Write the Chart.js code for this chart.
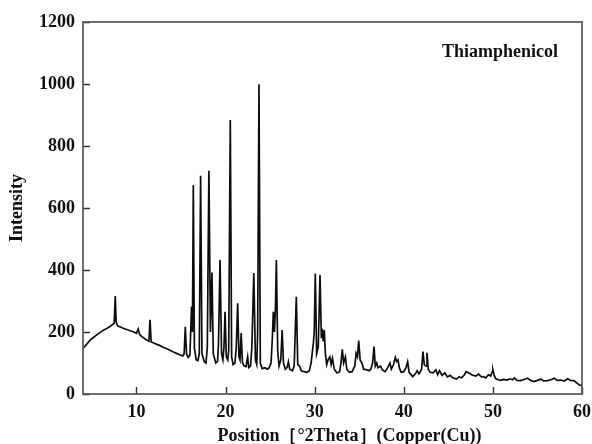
<!DOCTYPE html>
<html>
<head>
<meta charset="utf-8">
<script src="https://cdn.jsdelivr.net/npm/chart.js@4"></script>
<style>
html,body{margin:0;padding:0;background:#fff;}
#wrap{width:592px;height:444px;}
</style>
</head>
<body>
<div id="wrap"><canvas id="c" width="592" height="444"></canvas></div>
<script>
const twoTheta = [
4.0,4.4,4.8,5.2,5.5,5.9,6.3,6.7,7.0,7.3,7.5,7.62,7.72,7.9,8.2,8.5,8.9,9.3,9.7,10.0,
10.2,10.35,10.6,10.9,11.2,11.4,11.52,11.65,12.0,12.3,12.64,13.0,13.4,13.76,14.1,14.5,14.9,15.2,15.35,15.48,
15.62,15.8,16.0,16.18,16.28,16.38,16.5,16.7,16.9,17.05,17.2,17.35,17.6,17.8,17.95,18.13,18.3,18.47,18.62,18.9,
19.1,19.2,19.38,19.55,19.7,19.82,19.94,20.08,20.25,20.35,20.53,20.68,20.85,21.05,21.2,21.36,21.5,21.62,21.75,21.9,
22.1,22.3,22.48,22.6,22.8,22.95,23.17,23.35,23.5,23.6,23.75,23.9,24.1,24.4,24.7,24.9,25.1,25.25,25.36,25.48,
25.6,25.7,25.85,26.0,26.2,26.35,26.5,26.7,26.9,27.05,27.2,27.5,27.7,27.94,28.1,28.3,28.5,28.8,29.1,29.4,
29.6,29.85,29.95,30.07,30.22,30.4,30.6,30.75,30.85,30.95,31.08,31.2,31.35,31.5,31.7,31.85,32.0,32.2,32.5,32.8,
32.95,33.1,33.25,33.45,33.6,33.9,34.2,34.5,34.65,34.8,34.94,35.1,35.3,35.5,35.84,36.1,36.3,36.5,36.66,36.8,
36.96,37.1,37.4,37.6,37.9,38.2,38.45,38.6,38.85,39.05,39.2,39.35,39.5,39.7,40.0,40.25,40.43,40.6,41.0,41.3,
41.5,41.7,42.0,42.15,42.3,42.5,42.6,42.75,42.95,43.3,43.6,43.8,44.0,44.3,44.6,44.9,45.2,45.5,45.9,46.2,
46.5,46.8,47.0,47.3,47.6,47.8,48.1,48.4,48.7,48.95,49.2,49.5,49.75,49.9,50.0,50.15,50.3,50.6,50.9,51.2,
51.6,51.9,52.2,52.4,52.7,53.1,53.5,53.9,54.2,54.6,55.0,55.4,55.7,56.1,56.5,56.9,57.2,57.6,58.0,58.4,
58.7,59.1,59.4,59.7,60.0
];
const intensity = [
147,160,174,183,190,198,206,212,217,224,228,316,232,219,216,212,208,204,200,196,
210,192,185,179,173,170,239,168,164,160,156,151,146,141,136,131,126,123,130,217,
130,118,125,282,200,674,150,110,108,130,704,130,105,100,150,720,200,392,130,100,
105,160,432,130,110,150,265,120,110,140,884,120,95,100,150,293,120,110,197,100,
90,88,120,85,90,150,390,110,95,200,999,100,82,85,80,85,100,180,265,200,
280,432,140,90,110,206,100,80,85,104,80,75,90,314,95,90,75,72,70,75,
100,164,200,389,130,150,384,180,210,170,206,130,95,110,120,95,115,80,68,72,
100,144,100,120,80,70,72,90,131,120,172,110,100,80,78,75,80,100,153,90,
100,85,90,78,72,85,100,80,95,118,105,110,85,70,72,85,104,70,56,65,
75,65,80,137,95,90,133,80,70,68,78,62,75,60,68,55,60,52,48,55,
52,62,72,68,62,60,58,64,55,56,52,62,58,70,78,60,50,46,44,47,
45,49,46,52,44,43,47,51,44,40,44,48,42,43,46,51,44,45,42,49,
44,43,36,29,28
];
const xTickValues = [10, 20, 30, 40, 50, 60];
const yTickValues = [0, 200, 400, 600, 800, 1000, 1200];
const sampleName = 'Thiamphenicol';
const xTitle = 'Position［°2Theta］(Copper(Cu))';
const yTitle = 'Intensity';

const FONT = '"Liberation Serif", "Times New Roman", serif';
const INK = '#111';

const framePlugin = {
  id: 'frame',
  afterDraw(chart) {
    const {ctx, chartArea: {left, right, top, bottom}, scales: {x, y}} = chart;
    ctx.save();
    ctx.strokeStyle = '#333';
    ctx.lineWidth = 1.4;
    ctx.beginPath();
    xTickValues.forEach(v => {
      const px = Math.round(x.getPixelForValue(v)) + 0.5;
      ctx.moveTo(px, bottom);
      ctx.lineTo(px, bottom - 7);
    });
    yTickValues.forEach(v => {
      const py = Math.round(y.getPixelForValue(v)) + 0.5;
      ctx.moveTo(left, py);
      ctx.lineTo(left + 7, py);
    });
    ctx.stroke();
    ctx.strokeStyle = '#555';
    ctx.lineWidth = 1.7;
    ctx.strokeRect(left, top, right - left, bottom - top);
    ctx.fillStyle = INK;
    ctx.font = 'bold 18px ' + FONT;
    ctx.textAlign = 'right';
    ctx.textBaseline = 'middle';
    ctx.fillText(sampleName, right - 24, top + 30);
    ctx.textAlign = 'center';
    ctx.fillText(xTitle, (left + right) / 2 + 17, 436.5);
    ctx.restore();
  }
};

new Chart(document.getElementById('c'), {
  type: 'line',
  data: {
    datasets: [{
      data: twoTheta.map((t, i) => ({x: t, y: intensity[i]})),
      borderColor: '#0d0d0d',
      borderWidth: 1.7,
      pointRadius: 0,
      tension: 0,
      fill: false
    }]
  },
  options: {
    responsive: false,
    animation: false,
    devicePixelRatio: 1,
    layout: {padding: {top: 22, right: 10, left: 0, bottom: 0}},
    plugins: {legend: {display: false}, tooltip: {enabled: false}},
    scales: {
      x: {
        type: 'linear',
        min: 4,
        max: 60,
        afterBuildTicks: s => { s.ticks = xTickValues.map(v => ({value: v})); },
        afterFit: s => { s.height = 50; s.paddingRight = 0; s.paddingLeft = 0; },
        grid: {display: false, drawTicks: false},
        border: {display: false},
        ticks: {color: INK, padding: 8, maxRotation: 0, autoSkip: false,
                callback: v => String(v),
                font: {family: FONT, size: 18, weight: 'bold'}}
      },
      y: {
        type: 'linear',
        min: 0,
        max: 1200,
        afterBuildTicks: s => { s.ticks = yTickValues.map(v => ({value: v})); },
        afterFit: s => { s.width = 83; s.paddingTop = 0; s.paddingBottom = 0; },
        grid: {display: false, drawTicks: false},
        border: {display: false},
        ticks: {color: INK, padding: 8,
                callback: v => String(v),
                font: {family: FONT, size: 18, weight: 'bold'}},
        title: {display: true, text: yTitle, color: INK, padding: {top: 7, bottom: 0},
                font: {family: FONT, size: 18, weight: 'bold'}}
      }
    }
  },
  plugins: [framePlugin]
});
</script>
</body>
</html>
